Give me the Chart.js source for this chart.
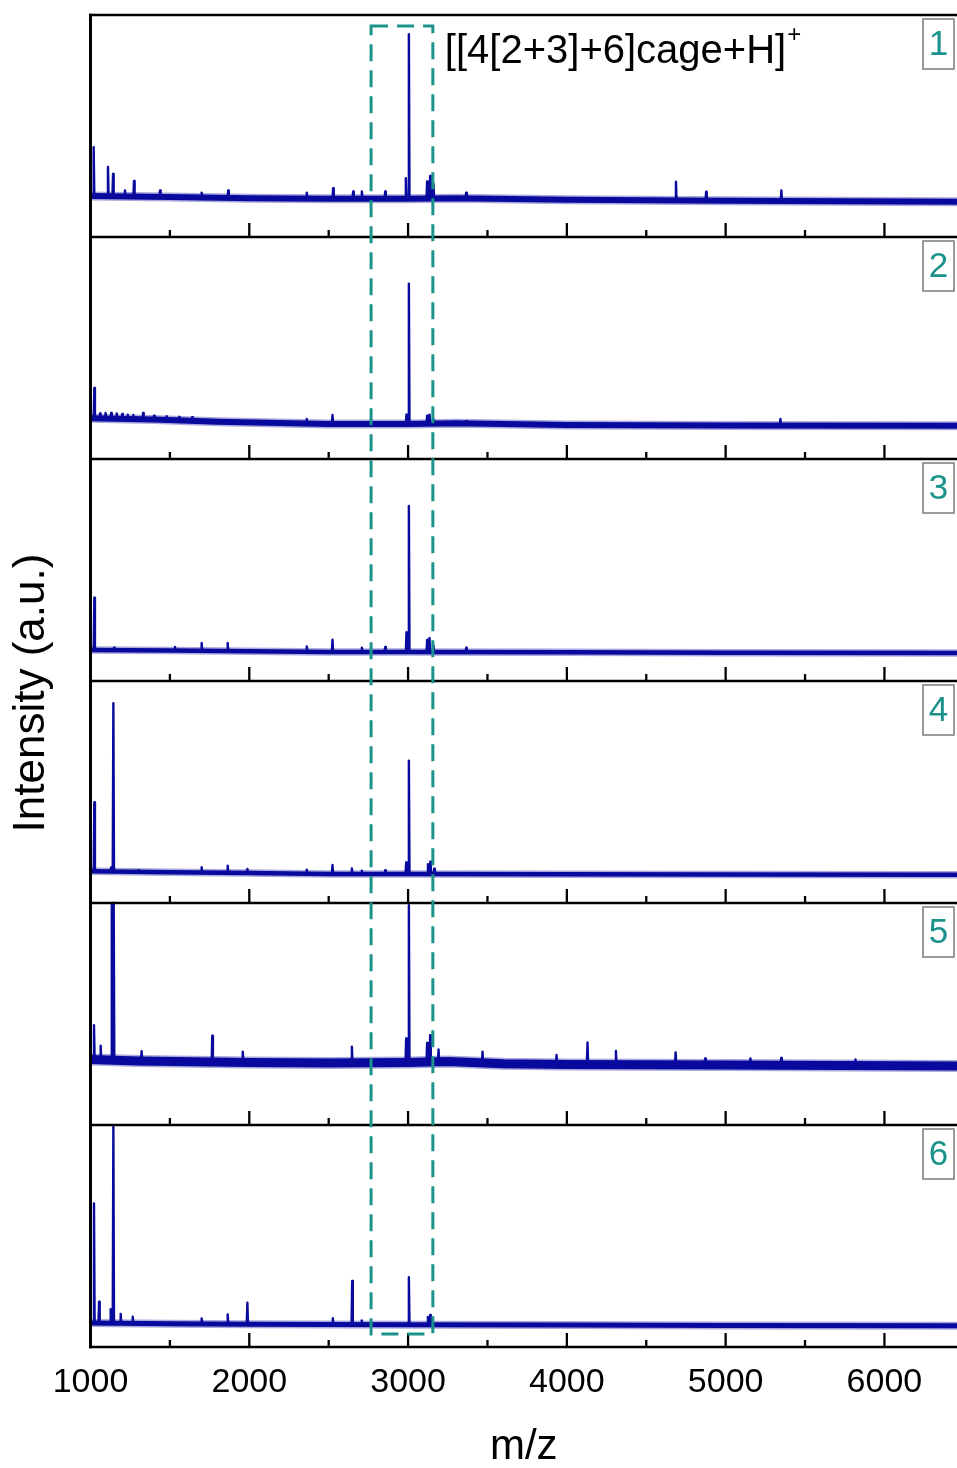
<!DOCTYPE html>
<html>
<head>
<meta charset="utf-8">
<script src="https://cdn.jsdelivr.net/npm/chart.js@4.4.1/dist/chart.umd.min.js"></script>
<style>
  html, body { margin: 0; padding: 0; background: #fff; overflow: hidden; }
  #wrap { width: 957px; height: 1468px; }
</style>
</head>
<body>
<div id="wrap"><canvas id="msChart" width="957" height="1468"></canvas></div>
<script>
// m/z axis
const xMin = 1000;
const xMax = 6457;
const majorTicks = [1000, 2000, 3000, 4000, 5000, 6000];
const minorTicks = [1500, 2500, 3500, 4500, 5500];

// panel labels, top to bottom
const panelNames = ['1', '2', '3', '4', '5', '6'];

// baseline level of every trace: [m/z, intensity as % of its panel]
const base1 = [[1000, 18.5], [1500, 18], [2000, 17.5], [2500, 17.2], [3000, 17.2], [3300, 17.5], [4000, 16.8], [5000, 16.3], [6457, 15.9]];
const base2 = [[1000, 18.4], [1400, 17.8], [1800, 16.8], [2500, 15.8], [3000, 15.8], [3300, 16.1], [4000, 15.3], [5000, 15.1], [6457, 15]];
const base3 = [[1000, 14], [1500, 13.7], [2000, 13.4], [2500, 13.1], [3000, 13.1], [4000, 12.9], [5000, 12.7], [6457, 12.6]];
const base4 = [[1000, 14.3], [1500, 13.9], [2000, 13.5], [2500, 13.1], [3000, 13.1], [4000, 12.9], [5000, 12.8], [6457, 12.7]];
const base5 = [[1000, 29.5], [1300, 28.8], [2000, 28.1], [2500, 27.9], [3000, 28.2], [3250, 28.6], [3600, 27.6], [4000, 27.3], [5000, 27], [6457, 26.6]];
const base6 = [[1000, 10.8], [1500, 10.5], [2000, 10.2], [3000, 10], [4000, 9.9], [5000, 9.7], [6457, 9.6]];

// peaks: [m/z, top of peak as % of its panel]
const peaks1 = [[1020, 40.5], [1110, 31.5], [1142, 28.4], [1217, 21], [1274, 25.2], [1438, 21], [1700, 20], [1867, 21],
  [2362, 20], [2528, 22], [2654, 20.5], [2709, 20.5], [2856, 20.5], [2986, 26.5], [3005, 91.4], [3120, 25],
  [3139, 27.5], [3160, 24], [3366, 20], [4687, 24.9], [4877, 20.4], [5351, 21]];
const peaks2 = [[1024, 32], [1060, 20.5], [1095, 20.7], [1130, 20.7], [1165, 20.5], [1200, 20.3], [1235, 20], [1270, 19.8],
  [1331, 20.7], [1400, 19.5], [1480, 19.3], [1560, 19], [1640, 18.8], [2362, 18], [2524, 19.8], [2990, 20.1],
  [3005, 79], [3120, 19.5], [3135, 20], [3160, 18], [3366, 17], [5345, 18]];
const peaks3 = [[1024, 37.5], [1148, 15], [1532, 15.3], [1700, 17.1], [1864, 17.1], [2362, 15.6], [2524, 18.6],
  [2709, 15], [2856, 15.3], [2990, 22], [3005, 78.8], [3120, 18.5], [3135, 19.4], [3160, 16], [3366, 15]];
const peaks4 = [[1024, 45.4], [1130, 16], [1144, 90], [1301, 14.8], [1700, 16.1], [1864, 16.8], [1988, 15.3],
  [2362, 15], [2524, 17.1], [2646, 15.6], [2709, 14.6], [2856, 14.8], [2988, 18.3], [3005, 64.1], [3125, 17.5],
  [3140, 18.6], [3165, 15.5]];
const peaks5 = [[1022, 45], [1064, 35.7], [1134, 100], [1140, 100], [1146, 100], [1322, 33.3], [1767, 40.2],
  [1959, 33], [2646, 35.3], [2988, 39], [3005, 99], [3120, 37], [3139, 40.5], [3192, 34], [3469, 33], [3935, 31.5],
  [4130, 37.2], [4309, 33.3], [4685, 32.7], [4871, 30], [5156, 30], [5350, 30.2], [5818, 29.5]];
const peaks6 = [[1022, 64.7], [1054, 20.4], [1127, 17], [1144, 99.5], [1190, 14.9], [1266, 13.7], [1700, 12.9],
  [1864, 14.7], [1988, 20], [2526, 13], [2648, 29.7], [2708, 12], [3005, 31.4], [3125, 13.5], [3139, 14.4]];

// dashed marker round the cage ion: m/z range, bottom in panel 6 and top in panel 1 (% of panel)
const cageRange = [2767, 3156];
const cageBottom = 5.9;
const cageTop = 95;
const cageLabel = '[[4[2+3]+6]cage+H]';

const bases = [base1, base2, base3, base4, base5, base6];
const peakSets = [peaks1, peaks2, peaks3, peaks4, peaks5, peaks6];

const traceColor = '#0a0a9e';
const teal = '#1b938b';
const fontFam = '"Liberation Sans", Arial, sans-serif';
const bandCore = [6, 6, 4.5, 4.5, 9, 5];

function nearestBase(b, mz) {
  let best = b[0];
  b.forEach(p => { if (Math.abs(p[0] - mz) < Math.abs(best[0] - mz)) best = p; });
  return best[1];
}

const datasets = [];
bases.forEach((b, i) => {
  const off = (5 - i) * 100;
  const line = b.map(p => ({ x: p[0], y: p[1] + off }));
  datasets.push({ data: line, borderColor: 'rgba(10,10,158,0.35)', borderWidth: bandCore[i] + 3 });
  datasets.push({ data: line, borderColor: traceColor, borderWidth: bandCore[i] });

  const pts = [];
  peakSets[i].forEach(([mz, top]) => {
    const foot = nearestBase(b, mz) + off;
    pts.push({ x: mz - 4, y: foot }, { x: mz, y: top + off }, { x: mz + 4, y: foot }, { x: mz + 4, y: null });
  });
  datasets.push({ data: pts, borderColor: traceColor, borderWidth: 2.4, borderJoinStyle: 'round', borderCapStyle: 'round' });
});

const panelDecor = {
  id: 'panelDecor',
  afterDatasetsDraw(chart) {
    const { ctx, chartArea, scales } = chart;
    const x = scales.x, y = scales.y;
    ctx.save();

    // panel frames
    ctx.strokeStyle = '#000';
    ctx.lineWidth = 2.5;
    for (let k = 0; k <= 6; k++) {
      const py = y.getPixelForValue(k * 100);
      ctx.beginPath();
      ctx.moveTo(chartArea.left - 1.5, py);
      ctx.lineTo(chartArea.right, py);
      ctx.stroke();
    }
    ctx.lineWidth = 3;
    ctx.beginPath();
    ctx.moveTo(chartArea.left, chartArea.top - 1.2);
    ctx.lineTo(chartArea.left, chartArea.bottom + 1.2);
    ctx.stroke();

    // inward ticks on each panel's bottom edge
    ctx.lineWidth = 2.3;
    for (let k = 0; k < 6; k++) {
      const py = y.getPixelForValue(k * 100);
      majorTicks.forEach(v => {
        const px = x.getPixelForValue(v);
        ctx.beginPath(); ctx.moveTo(px, py); ctx.lineTo(px, py - 14); ctx.stroke();
      });
      minorTicks.forEach(v => {
        const px = x.getPixelForValue(v);
        ctx.beginPath(); ctx.moveTo(px, py); ctx.lineTo(px, py - 7); ctx.stroke();
      });
    }

    // dashed box
    const bx0 = x.getPixelForValue(cageRange[0]);
    const bx1 = x.getPixelForValue(cageRange[1]);
    const by0 = y.getPixelForValue(500 + cageTop);
    const by1 = y.getPixelForValue(cageBottom);
    ctx.strokeStyle = teal;
    ctx.lineWidth = 3;
    ctx.setLineDash([17, 9]);
    ctx.strokeRect(bx0, by0, bx1 - bx0, by1 - by0);
    ctx.setLineDash([]);

    // cage label with superscript
    ctx.fillStyle = '#000';
    ctx.textBaseline = 'alphabetic';
    ctx.textAlign = 'left';
    ctx.font = '40px ' + fontFam;
    const lx = bx1 + 12;
    ctx.fillText(cageLabel, lx, 63);
    const w = ctx.measureText(cageLabel).width;
    ctx.font = '24px ' + fontFam;
    ctx.fillText('+', lx + w + 1, 42);

    // panel numbers
    panelNames.forEach((name, i) => {
      const top = y.getPixelForValue((6 - i) * 100);
      ctx.fillStyle = '#fff';
      ctx.fillRect(923, top + 4, 31, 50);
      ctx.strokeStyle = '#7a7a7a';
      ctx.lineWidth = 1.5;
      ctx.strokeRect(923, top + 4, 31, 50);
      ctx.fillStyle = teal;
      ctx.font = '35px ' + fontFam;
      ctx.textAlign = 'center';
      ctx.textBaseline = 'middle';
      ctx.fillText(name, 938.5, top + 30);
    });

    // y title
    ctx.save();
    ctx.translate(32, 693);
    ctx.rotate(-Math.PI / 2);
    ctx.fillStyle = '#000';
    ctx.font = '44px ' + fontFam;
    ctx.textAlign = 'center';
    ctx.textBaseline = 'middle';
    ctx.fillText('Intensity (a.u.)', 0, 0);
    ctx.restore();

    ctx.restore();
  }
};

new Chart(document.getElementById('msChart'), {
  type: 'line',
  data: { datasets },
  options: {
    responsive: false,
    animation: false,
    devicePixelRatio: 1,
    parsing: false,
    spanGaps: false,
    elements: { point: { radius: 0 }, line: { tension: 0, borderJoinStyle: 'round' } },
    layout: { padding: { left: 90.5, top: 15, right: 0, bottom: 0 } },
    plugins: { legend: { display: false }, tooltip: { enabled: false } },
    scales: {
      x: {
        type: 'linear',
        min: xMin,
        max: xMax,
        afterFit: s => { s.height = 121; },
        afterBuildTicks: s => { s.ticks = majorTicks.map(v => ({ value: v })); },
        grid: { display: false, drawTicks: false },
        border: { display: false },
        ticks: {
          autoSkip: false,
          maxRotation: 0,
          padding: 15,
          color: '#000',
          font: { family: fontFam, size: 34 },
          callback: v => String(v)
        },
        title: {
          display: true,
          text: 'm/z',
          color: '#000',
          font: { family: fontFam, size: 42, lineHeight: 1.0 },
          padding: { top: 0, bottom: 0 }
        }
      },
      y: { display: false, min: 0, max: 600 }
    }
  },
  plugins: [panelDecor]
});
</script>
</body>
</html>
